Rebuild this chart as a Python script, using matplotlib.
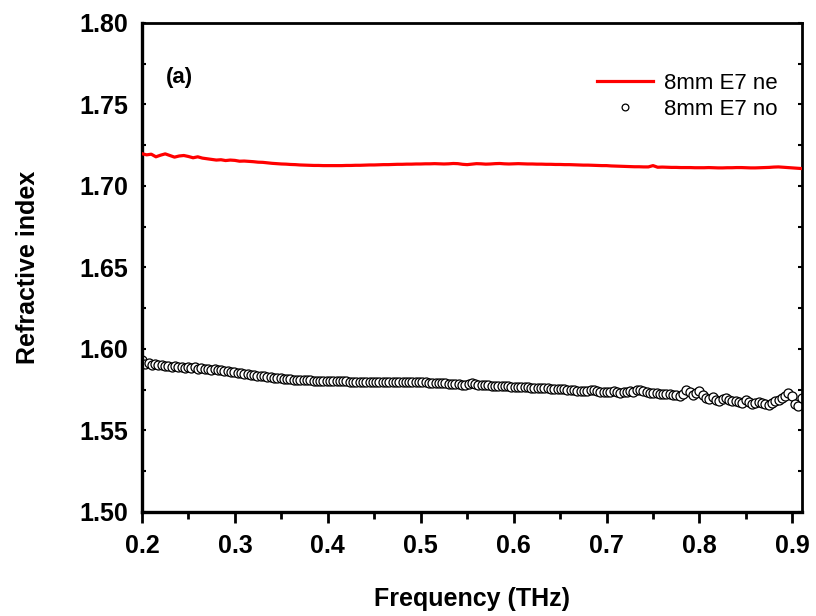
import numpy as np
import matplotlib.pyplot as plt
from matplotlib.ticker import MultipleLocator, FormatStrFormatter

# Extraordinary index (red line), sampled every 0.005 THz from 0.200 to 0.910
ne_start, ne_step = 0.200, 0.005
ne_values = [
    1.7197, 1.7190, 1.7194, 1.7178, 1.7188, 1.7196, 1.7186, 1.7176, 1.7183, 1.7186,
    1.7180, 1.7172, 1.7178, 1.7170, 1.7166, 1.7162, 1.7158, 1.7160, 1.7155, 1.7158,
    1.7156, 1.7151, 1.7152, 1.7150, 1.7148, 1.7145, 1.7144, 1.7141, 1.7138, 1.7136,
    1.7134, 1.7133, 1.7131, 1.7130, 1.7128, 1.7127, 1.7126, 1.7125, 1.7125, 1.7124,
    1.7124, 1.7124, 1.7124, 1.7124, 1.7125, 1.7125, 1.7126, 1.7126, 1.7127, 1.7128,
    1.7128, 1.7129, 1.7130, 1.7130, 1.7131, 1.7132, 1.7132, 1.7133, 1.7133, 1.7134,
    1.7134, 1.7135, 1.7135, 1.7136, 1.7135, 1.7134, 1.7135, 1.7137, 1.7136, 1.7132,
    1.7130, 1.7133, 1.7136, 1.7135, 1.7133, 1.7134, 1.7136, 1.7137, 1.7135, 1.7134,
    1.7135, 1.7136, 1.7135, 1.7134, 1.7134, 1.7133, 1.7133, 1.7132, 1.7132, 1.7131,
    1.7131, 1.7130, 1.7130, 1.7129, 1.7128, 1.7127, 1.7127, 1.7126, 1.7125, 1.7124,
    1.7124, 1.7122, 1.7121, 1.7120, 1.7119, 1.7118, 1.7117, 1.7117, 1.7116, 1.7116,
    1.7124, 1.7114, 1.7115, 1.7114, 1.7113, 1.7113, 1.7112, 1.7112, 1.7112, 1.7111,
    1.7111, 1.7111, 1.7112, 1.7111, 1.7110, 1.7110, 1.7111, 1.7111, 1.7112, 1.7112,
    1.7111, 1.7110, 1.7110, 1.7111, 1.7112, 1.7113, 1.7115, 1.7116, 1.7114, 1.7112,
    1.7110, 1.7108, 1.7106,
]

# Ordinary index (open circles), sampled every 0.00355 THz from 0.200 to 0.910
no_start, no_step = 0.200, 0.00355
no_values = [
    1.5930, 1.5905, 1.5915, 1.5900, 1.5908, 1.5898, 1.5902, 1.5895, 1.5897, 1.5890,
    1.5893, 1.5888, 1.5891, 1.5885, 1.5887, 1.5882, 1.5886, 1.5879, 1.5881, 1.5876,
    1.5878, 1.5872, 1.5875, 1.5868, 1.5870, 1.5864, 1.5866, 1.5860, 1.5858, 1.5855,
    1.5852, 1.5848, 1.5846, 1.5842, 1.5840, 1.5836, 1.5834, 1.5831, 1.5829, 1.5826,
    1.5824, 1.5821, 1.5819, 1.5817, 1.5815, 1.5813, 1.5812, 1.5810, 1.5809, 1.5808,
    1.5807, 1.5806, 1.5805, 1.5804, 1.5803, 1.5803, 1.5802, 1.5802, 1.5801, 1.5801,
    1.5800, 1.5800, 1.5800, 1.5799, 1.5799, 1.5799, 1.5798, 1.5798, 1.5798, 1.5798,
    1.5797, 1.5797, 1.5797, 1.5798, 1.5798, 1.5798, 1.5797, 1.5797, 1.5796, 1.5796,
    1.5797, 1.5797, 1.5796, 1.5796, 1.5795, 1.5795, 1.5794, 1.5793, 1.5792, 1.5791,
    1.5790, 1.5789, 1.5788, 1.5786, 1.5785, 1.5783, 1.5782, 1.5780, 1.5778, 1.5783,
    1.5792, 1.5784, 1.5779, 1.5777, 1.5776, 1.5776, 1.5775, 1.5774, 1.5773, 1.5772,
    1.5771, 1.5770, 1.5769, 1.5768, 1.5767, 1.5766, 1.5765, 1.5764, 1.5763, 1.5762,
    1.5761, 1.5760, 1.5759, 1.5757, 1.5756, 1.5755, 1.5753, 1.5752, 1.5751, 1.5749,
    1.5748, 1.5746, 1.5744, 1.5743, 1.5742, 1.5741, 1.5746, 1.5749, 1.5742, 1.5738,
    1.5735, 1.5734, 1.5738, 1.5741, 1.5735, 1.5732, 1.5735, 1.5737, 1.5740, 1.5738,
    1.5745, 1.5748, 1.5739, 1.5733, 1.5730, 1.5728, 1.5727, 1.5726, 1.5725, 1.5723,
    1.5722, 1.5719, 1.5716, 1.5713, 1.5721, 1.5745, 1.5738, 1.5720, 1.5728, 1.5740,
    1.5718, 1.5700, 1.5695, 1.5705, 1.5688, 1.5682, 1.5690, 1.5698, 1.5685, 1.5678,
    1.5682, 1.5672, 1.5668, 1.5685, 1.5676, 1.5664, 1.5670, 1.5675, 1.5668, 1.5660,
    1.5655, 1.5668, 1.5678, 1.5688, 1.5698, 1.5712, 1.5728, 1.5710, 1.5662, 1.5650,
    1.5700,
]

ne_freq = ne_start + ne_step * np.arange(len(ne_values))
no_freq = no_start + no_step * np.arange(len(no_values))

plt.rcParams['font.family'] = ['Liberation Sans', 'DejaVu Sans']

fig = plt.figure(figsize=(8.16, 6.16), dpi=100)
ax = fig.add_axes([0.174, 0.169, 0.809, 0.794])

ax.plot(no_freq, no_values, linestyle='none', marker='o', markersize=6.5,
        markerfacecolor='white', markeredgecolor='black', markeredgewidth=0.9,
        label='8mm E7 no', zorder=2)
ax.plot(ne_freq, ne_values, color='#ff0000', linewidth=2.3,
        label='8mm E7 ne', zorder=3)

ax.set_xlim(0.2, 0.9105)
ax.set_ylim(1.50, 1.80)
ax.xaxis.set_major_locator(MultipleLocator(0.1))
ax.xaxis.set_minor_locator(MultipleLocator(0.05))
ax.yaxis.set_major_locator(MultipleLocator(0.05))
ax.yaxis.set_minor_locator(MultipleLocator(0.025))
ax.xaxis.set_major_formatter(FormatStrFormatter('%.1f'))
ax.yaxis.set_major_formatter(FormatStrFormatter('%.2f'))

# Spines
for side in ['left', 'bottom']:
    ax.spines[side].set_linewidth(2.4)
for side in ['top', 'right']:
    ax.spines[side].set_linewidth(2.0)

# Ticks
ax.tick_params(axis='x', which='major', direction='out', length=8, width=2,
               labelsize=18, pad=8, top=False)
ax.tick_params(axis='x', which='minor', direction='out', length=5, width=2, top=False)
ax.tick_params(axis='y', which='both', direction='in', length=3, width=1.5,
               labelsize=18, pad=10, right=True)
for lab in ax.get_xticklabels() + ax.get_yticklabels():
    lab.set_fontweight('bold')

ax.set_xlabel('Frequency (THz)', fontsize=18, fontweight='bold', labelpad=21)
ax.set_ylabel('Refractive index', fontsize=18, fontweight='bold', labelpad=28)

ax.text(0.056, 0.888, '(a)', transform=ax.transAxes, fontsize=16,
        fontweight='bold', ha='center', va='center')

handles, labels = ax.get_legend_handles_labels()
leg = ax.legend(handles[::-1], labels[::-1], loc='upper right',
                bbox_to_anchor=(0.993, 0.939), frameon=False, fontsize=16,
                handlelength=2.5, handletextpad=0.5, labelspacing=0.22,
                borderpad=0.4, markerscale=0.75)

fig.savefig('out.png', dpi=100)
